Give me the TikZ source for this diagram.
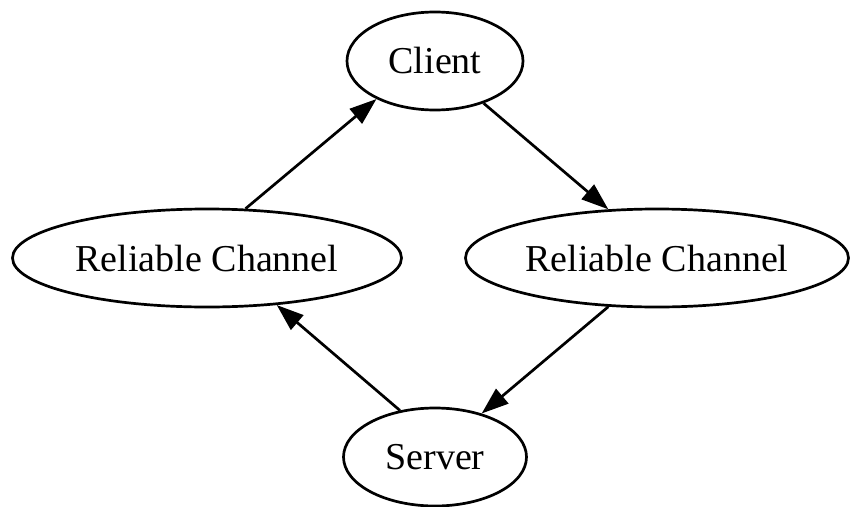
\documentclass[tikz,border=0pt]{standalone}
\usepackage{fontspec}
\setmainfont{Liberation Serif}
\usetikzlibrary{shapes.geometric,arrows.meta}
\begin{document}
\begin{tikzpicture}[x=1pt,y=1pt,
  gnode/.style={ellipse,draw=black,line width=2.7pt,inner sep=0pt,
    minimum height=98pt,font=\fontsize{38}{46}\selectfont},
  gedge/.style={line width=2.7pt,-{Triangle[length=27pt,width=19pt]}}]
\useasboundingbox (0,0) rectangle (850,-506);
\node[gnode,minimum width=176pt] (client) at (435,-61) {Client};
\node[gnode,minimum width=389pt] (rc1) at (207,-258) {Reliable Channel};
\node[gnode,minimum width=383pt] (rc2) at (657,-258) {Reliable Channel};
\node[gnode,minimum width=183pt] (server) at (435,-457) {Server};
\draw[gedge] (client.-41) -- (rc2.135);
\draw[gedge] (rc1.52) -- (client.213);
\draw[gedge] (rc2.225) -- (server.43);
\draw[gedge] (server.127) -- (rc1.-34.6);
\end{tikzpicture}
\end{document}
